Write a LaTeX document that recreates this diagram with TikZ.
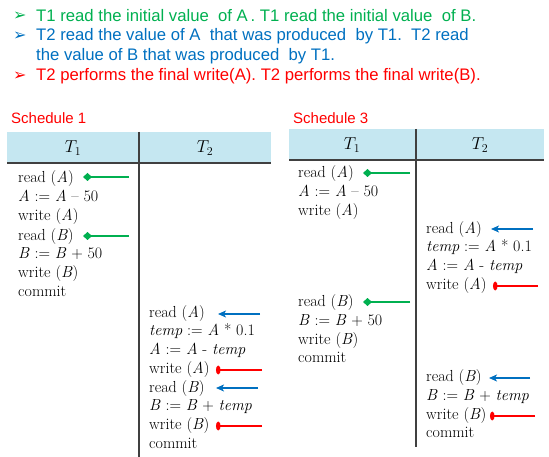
\documentclass[tikz,border=0pt]{standalone}
\usepackage{fontspec}
\setsansfont{Liberation Sans}
\newfontfamily\dejavu{DejaVu Sans}
\usetikzlibrary{arrows.meta}
\definecolor{cgreen}{HTML}{00B050}
\definecolor{cblue}{HTML}{0070C0}
\definecolor{cred}{HTML}{FF0000}
\definecolor{hdr}{HTML}{C5E7F1}
\definecolor{rule}{HTML}{404040}
\newcommand{\vA}{\textit{A}}
\newcommand{\vB}{\textit{B}}
\begin{document}
\begin{tikzpicture}[x=1pt,y=-1pt,
  bul/.style={anchor=west,inner sep=0pt,font=\sffamily\fontsize{16.7}{20}\selectfont},
  mk/.style={anchor=west,inner sep=0pt,font=\dejavu\fontsize{16}{18}\selectfont},
  sch/.style={anchor=west,inner sep=0pt,text=cred,font=\sffamily\fontsize{15}{18}\selectfont},
  op/.style={anchor=west,inner sep=0pt,text height=11pt,text depth=4pt,font=\fontsize{16}{19}\selectfont},
  hd/.style={inner sep=0pt,font=\fontsize{16.5}{19}\selectfont},
  grn/.style={draw=cgreen,line width=1.3pt,-{Diamond[length=9pt,width=8pt]}},
  blu/.style={draw=cblue,line width=1.3pt,-{Stealth[length=8pt,width=7pt,inset=2pt]}},
  rd/.style={draw=cred,line width=1.3pt,-{Ellipse[length=4.5pt,width=8.5pt]}},
]
\useasboundingbox (0,0) rectangle (549,457);
% bullets
\node[mk,text=cgreen] (m1) at (13,16) {\char"27A2};
\node[bul,text=cgreen] (l1) at (36,16) {T1 read the initial value\ \ of A\,. T1 read the initial value\ \ of B.};
\node[mk,text=cblue] (m2) at (13,36) {\char"27A2};
\node[bul,text=cblue] (l2) at (36,36) {T2 read the value of A\ \ that was produced\ \ by T1.\ \ T2 read};
\node[bul,text=cblue] (l3) at (36,56) {the value of B that was produced\ \ by T1.};
\node[mk,text=cred] (m3) at (13,76) {\char"27A2};
\node[bul,text=cred] (l4) at (36,76) {T2 performs the final write(A). T2 performs the final write(B).};

% Schedule 1
\node[sch] (s1) at (11,118) {Schedule 1};
\fill[hdr] (7,132) rectangle (271,163);
\draw[rule,line width=1.5pt] (7,163) -- (271,163);
\draw[rule,line width=1.2pt] (139,132) -- (139,457);
\node[hd] (a1) at (73,148) {$T_1$};
\node[hd] (a2) at (205,148) {$T_2$};
\node[op] (p1) at (18,179) {read (\vA)};
\node[op] (p2) at (18,198) {\vA\ := \vA\ -- 50};
\node[op] (p3) at (18,217) {write (\vA)};
\node[op] (p4) at (18,237) {read (\vB)};
\node[op] (p5) at (18,255) {\vB\ := \vB\ + 50};
\node[op] (p6) at (18,274) {write (\vB)};
\node[op] (p7) at (18,293) {commit};
\node[op] (q1) at (149,314) {read (\vA)};
\node[op] (q2) at (149,332) {\textit{temp} := \vA\ * 0.1};
\node[op] (q3) at (149,351) {\vA\ := \vA\ - \textit{temp}};
\node[op] (q4) at (149,370) {write (\vA)};
\node[op] (q5) at (149,389) {read (\vB)};
\node[op] (q6) at (149,407) {\vB\ := \vB\ + \textit{temp}};
\node[op] (q7) at (149,426) {write (\vB)};
\node[op] (q8) at (149,445) {commit};
\coordinate (g1s) at (129,177); \coordinate (g1e) at (83,177);
\coordinate (g2s) at (129,236); \coordinate (g2e) at (83,236);
\coordinate (b1s) at (260,314); \coordinate (b1e) at (218,314);
\coordinate (b2s) at (258,388); \coordinate (b2e) at (216,388);
\coordinate (r1s) at (262,370); \coordinate (r1e) at (216,370);
\coordinate (r2s) at (262,426); \coordinate (r2e) at (216,426);
\draw[grn] (g1s) -- (g1e);
\draw[grn] (g2s) -- (g2e);
\draw[blu] (b1s) -- (b1e);
\draw[blu] (b2s) -- (b2e);
\draw[rd] (r1s) -- (r1e);
\draw[rd] (r2s) -- (r2e);

% Schedule 3
\node[sch] (s3) at (293,118) {Schedule 3};
\fill[hdr] (289,129) rectangle (544,160);
\draw[rule,line width=1.5pt] (289,160) -- (544,160);
\draw[rule,line width=1.2pt] (416,129) -- (416,447);
\node[hd] (c1) at (352,145) {$T_1$};
\node[hd] (c2) at (480,145) {$T_2$};
\node[op] (u1) at (298,174) {read (\vA)};
\node[op] (u2) at (298,193) {\vA\ := \vA\ -- 50};
\node[op] (u3) at (298,212) {write (\vA)};
\node[op] (v1) at (426,230) {read (\vA)};
\node[op] (v2) at (426,248) {\textit{temp} := \vA\ * 0.1};
\node[op] (v3) at (426,267) {\vA\ := \vA\ - \textit{temp}};
\node[op] (v4) at (426,286) {write (\vA)};
\node[op] (u4) at (298,303) {read (\vB)};
\node[op] (u5) at (298,322) {\vB\ := \vB\ + 50};
\node[op] (u6) at (298,341) {write (\vB)};
\node[op] (u7) at (298,359) {commit};
\node[op] (v5) at (426,378) {read (\vB)};
\node[op] (v6) at (426,397) {\vB\ := \vB\ + \textit{temp}};
\node[op] (v7) at (426,416) {write (\vB)};
\node[op] (v8) at (426,434) {commit};
\coordinate (h1s) at (410,173); \coordinate (h1e) at (363,173);
\coordinate (h2s) at (410,302); \coordinate (h2e) at (363,302);
\coordinate (k1s) at (533,229); \coordinate (k1e) at (491,229);
\coordinate (k2s) at (530,378); \coordinate (k2e) at (489,378);
\coordinate (t1s) at (538,286); \coordinate (t1e) at (493,286);
\coordinate (t2s) at (535,416); \coordinate (t2e) at (490,416);
\draw[grn] (h1s) -- (h1e);
\draw[grn] (h2s) -- (h2e);
\draw[blu] (k1s) -- (k1e);
\draw[blu] (k2s) -- (k2e);
\draw[rd] (t1s) -- (t1e);
\draw[rd] (t2s) -- (t2e);
\end{tikzpicture}
\end{document}
